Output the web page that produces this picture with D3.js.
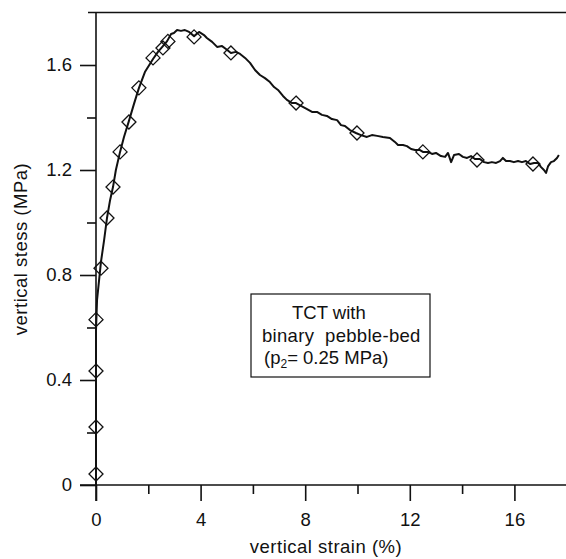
<!DOCTYPE html>
<meta charset="utf-8">
<head>
<style>
body { margin: 0; background: #fff; }
svg { display: block; }
text { font-family: "Liberation Sans", Arial, sans-serif; fill: #111; }
.axis path, .axis line { stroke: #111; stroke-width: 1.6px; }
.curve { fill: none; stroke: #111; stroke-width: 2px; stroke-linejoin: round; }
.marker { fill: none; stroke: #111; stroke-width: 1.3px; }
</style>
</head>
<body>
<svg></svg>
<script src="https://d3js.org/d3.v7.min.js"></script>
<script>
// measured curve: vertical strain (%) and vertical stress (MPa)
var strain = [0, 0, 0.04, 0.19, 0.31, 0.42, 0.54, 0.65, 0.76, 0.92, 1.07, 1.26, 1.45, 1.64, 1.87,
  2.18, 2.37, 2.56, 2.72, 2.87, 2.98, 3.1, 3.25, 3.4, 3.56, 3.75, 3.94, 4.13, 4.24, 4.44, 4.63,
  4.82, 4.97, 5.16, 5.35, 5.51, 5.7, 5.89, 6.08, 6.27, 6.46, 6.65, 6.81, 6.96, 7.15, 7.3, 7.5,
  7.65, 7.84, 8.07, 8.26, 8.45, 8.64, 8.83, 9.02, 9.22, 9.37, 9.52, 9.71, 9.94, 10.13, 10.36,
  10.55, 10.75, 10.97, 11.24, 11.43, 11.55, 11.74, 11.89, 12.05, 12.2, 12.39, 12.5, 12.7, 12.85,
  13.0, 13.19, 13.35, 13.46, 13.58, 13.69, 13.88, 14.03, 14.19, 14.34, 14.49, 14.68, 14.84,
  14.99, 15.14, 15.3, 15.45, 15.56, 15.68, 15.83, 15.98, 16.14, 16.29, 16.44, 16.6, 16.75,
  16.9, 17.02, 17.13, 17.21, 17.29, 17.4, 17.51, 17.63, 17.7];
var stress = [0, 0.59, 0.705, 0.85, 0.933, 1.017, 1.086, 1.135, 1.2, 1.269, 1.326, 1.387, 1.451,
  1.512, 1.573, 1.623, 1.65, 1.672, 1.691, 1.718, 1.722, 1.733, 1.73, 1.733, 1.726, 1.71, 1.726,
  1.714, 1.703, 1.688, 1.669, 1.672, 1.661, 1.646, 1.65, 1.642, 1.627, 1.608, 1.581, 1.562,
  1.55, 1.535, 1.516, 1.505, 1.482, 1.467, 1.455, 1.455, 1.444, 1.432, 1.421, 1.421, 1.41,
  1.406, 1.394, 1.39, 1.371, 1.368, 1.352, 1.341, 1.333, 1.326, 1.333, 1.33, 1.326, 1.322,
  1.307, 1.295, 1.295, 1.291, 1.28, 1.276, 1.276, 1.269, 1.269, 1.261, 1.265, 1.253, 1.25,
  1.265, 1.23, 1.257, 1.261, 1.25, 1.246, 1.253, 1.242, 1.242, 1.23, 1.227, 1.23, 1.227,
  1.234, 1.246, 1.234, 1.234, 1.23, 1.234, 1.23, 1.234, 1.223, 1.227, 1.227, 1.211, 1.2,
  1.189, 1.215, 1.23, 1.234, 1.246, 1.257];

// diamond markers
var markStrain = [0, 0, 0, 0, 0.19, 0.42, 0.65, 0.92, 1.26, 1.64, 2.18, 2.56, 2.75, 3.75, 5.16,
  7.65, 9.98, 12.5, 14.57, 16.71];
var markStress = [0.042, 0.221, 0.434, 0.63, 0.826, 1.017, 1.135, 1.269, 1.383, 1.513, 1.627,
  1.665, 1.69, 1.707, 1.646, 1.455, 1.341, 1.269, 1.238, 1.223];

var xTicks = [0, 4, 8, 12, 16];
var xMinor = [2, 6, 10, 14];
var yTicks = [0, 0.4, 0.8, 1.2, 1.6];
var yMinor = [0.2, 0.6, 1.0, 1.4];

var noteLines = ["TCT with", "binary  pebble-bed", "(p|2|= 0.25 MPa)"];

var W = 566, H = 559;
var fs = 18.5;
var svg = d3.select('svg').attr('width', W).attr('height', H);

var x = d3.scaleLinear().domain([0, 18]).range([96, 566.7]);
var y = d3.scaleLinear().domain([0, 1.8]).range([485, 12.5]);

var fmt = function (d) { return d === 0 ? '0' : d.toFixed(1); };

// top frame line
svg.append('line')
  .attr('x1', 88).attr('x2', W).attr('y1', y(1.8)).attr('y2', y(1.8))
  .attr('stroke', '#111').attr('stroke-width', 1.6);

// y axis
var gy = svg.append('g').attr('class', 'axis').attr('transform', 'translate(' + x(0) + ',0)');
gy.call(d3.axisLeft(y).tickValues(yTicks).tickFormat(fmt).tickSize(16).tickPadding(8).tickSizeOuter(0));
gy.append('g').call(d3.axisLeft(y).tickValues(yMinor).tickFormat('').tickSize(9).tickSizeOuter(0))
  .select('.domain').remove();
gy.selectAll('text').attr('font-size', fs).attr('font-family', '"Liberation Sans", Arial, sans-serif').attr('fill', '#111');
gy.select('.domain').attr('d', 'M0,' + y(1.8) + 'V' + (y(0) + 16));

// x axis
var gx = svg.append('g').attr('class', 'axis').attr('transform', 'translate(0,' + y(0) + ')');
gx.call(d3.axisBottom(x).tickValues(xTicks).tickFormat(d3.format('d')).tickSize(16).tickPadding(12).tickSizeOuter(0));
gx.append('g').call(d3.axisBottom(x).tickValues(xMinor).tickFormat('').tickSize(9).tickSizeOuter(0))
  .select('.domain').remove();
gx.selectAll('text').attr('font-size', fs).attr('font-family', '"Liberation Sans", Arial, sans-serif').attr('fill', '#111');
gx.select('.domain').attr('d', 'M' + (x(0) - 16) + ',0H' + W);

// axis titles
svg.append('text').attr('x', 326).attr('y', 553).attr('text-anchor', 'middle')
  .attr('font-size', fs).attr('letter-spacing', 0.5).text('vertical strain (%)');
svg.append('text').attr('transform', 'translate(27,249) rotate(-90)').attr('text-anchor', 'middle')
  .attr('font-size', fs).attr('letter-spacing', 0.5).text('vertical stess (MPa)');

// curve
var pts = strain.map(function (d, i) { return [d, stress[i]]; });
var line = d3.line().x(function (d) { return x(d[0]); }).y(function (d) { return y(d[1]); });
svg.append('path').datum(pts).attr('class', 'curve').attr('d', line);

// markers
var marks = markStrain.map(function (d, i) { return [d, markStress[i]]; });
svg.append('g').selectAll('path').data(marks).enter().append('path')
  .attr('class', 'marker')
  .attr('transform', function (d) { return 'translate(' + x(d[0]) + ',' + y(d[1]) + ')'; })
  .attr('d', 'M0,-7L7,0L0,7L-7,0Z');

// note box
svg.append('rect').attr('x', 251).attr('y', 294).attr('width', 179).attr('height', 83)
  .attr('fill', '#fff').attr('stroke', '#111').attr('stroke-width', 1.2);
var note = svg.append('g').attr('font-size', fs);
note.append('text').attr('x', 292).attr('y', 319).text(noteLines[0]);
note.append('text').attr('x', 262).attr('y', 342).attr('xml:space', 'preserve').attr('letter-spacing', 0.3)
  .style('white-space', 'pre').text(noteLines[1]);
var parts = noteLines[2].split('|');
var t3 = note.append('text').attr('x', 264).attr('y', 364);
t3.append('tspan').text(parts[0]);
t3.append('tspan').attr('font-size', 12).attr('dy', 4).text(parts[1]);
t3.append('tspan').attr('dy', -4).text(parts[2]);
</script>
</body>
</html>
